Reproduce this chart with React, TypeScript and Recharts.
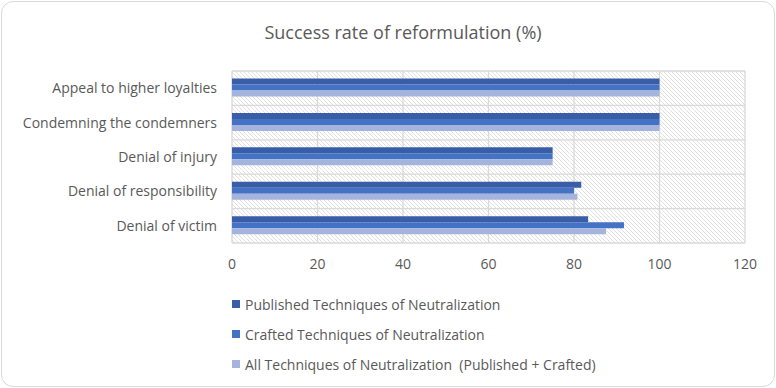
import React from "react";
import { BarChart, Bar, XAxis, YAxis, CartesianGrid } from "recharts";

const categories = [
  "Appeal to higher loyalties",
  "Condemning the condemners",
  "Denial of injury",
  "Denial of responsibility",
  "Denial of victim",
];
const publishedValues = [100, 100, 75, 81.7, 83.3];
const craftedValues = [100, 100, 75, 80, 91.7];
const allValues = [100, 100, 75, 80.8, 87.5];
const xTicks = [0, 20, 40, 60, 80, 100, 120];

const seriesNames = [
  "Published Techniques of Neutralization",
  "Crafted Techniques of Neutralization",
  "All Techniques of Neutralization  (Published + Crafted)",
];
const seriesColors = ["#3A5DA7", "#4472C4", "#A4B4DC"];
const seriesKeys = ["published", "crafted", "all"];

const data = categories.map((name, i) => ({
  name,
  published: publishedValues[i],
  crafted: craftedValues[i],
  all: allValues[i],
}));

const FONT = "'Open Sans', 'Noto Sans', sans-serif";
const TEXT = "#595959";

// Horizontal grid lines sit on category boundaries, not on tick centres.
const bandBoundaries = ({ offset }: any) => {
  const n = categories.length;
  const out: number[] = [];
  for (let i = 0; i <= n; i++) out.push(offset.top + (offset.height * i) / n);
  return out;
};

export default function App() {
  return (
    <div
      style={{
        position: "absolute",
        left: 0,
        top: 0,
        width: 776,
        height: 388,
        fontFamily: FONT,
        background: "#fff",
      }}
    >
      <div
        style={{
          position: "absolute",
          left: 1,
          top: 1,
          width: 772,
          height: 384,
          border: "1px solid #D9D9D9",
          borderRadius: 12,
        }}
      />
      <div
        style={{
          position: "absolute",
          left: 0,
          width: 806,
          top: 19,
          textAlign: "center",
          fontSize: 18,
          color: TEXT,
          lineHeight: "26px",
        }}
      >
        Success rate of reformulation (%)
      </div>
      <div style={{ position: "absolute", left: 0, top: 0 }}>
        <BarChart
          width={776}
          height={388}
          data={data}
          layout="vertical"
          margin={{ top: 71, right: 31, bottom: 115, left: 0 }}
          barCategoryGap="22%"
          barGap={0}
        >
          <defs>
            <pattern
              id="hatch"
              width="4"
              height="4"
              patternUnits="userSpaceOnUse"
            >
              <path
                d="M-1,-1 l2,2 M0,0 l4,4 M3,3 l2,2"
                stroke="#DCDCDC"
                strokeWidth="0.8"
              />
            </pattern>
          </defs>
          <CartesianGrid
            fill="url(#hatch)"
            stroke="#D9D9D9"
            strokeWidth={1.3}
            horizontalCoordinatesGenerator={bandBoundaries}
          />
          <XAxis
            type="number"
            domain={[0, 120]}
            ticks={xTicks}
            axisLine={false}
            tickLine={false}
            tickSize={0}
            tickMargin={16}
            height={30}
            tick={{ fill: TEXT, fontSize: 14, fontFamily: FONT }}
          />
          <YAxis
            type="category"
            dataKey="name"
            width={232}
            axisLine={false}
            tickLine={false}
            tickSize={0}
            tickMargin={15}
            tick={{ fill: TEXT, fontSize: 14, fontFamily: FONT }}
          />
          {seriesKeys.map((k, i) => (
            <Bar
              key={k}
              dataKey={k}
              name={seriesNames[i]}
              fill={seriesColors[i]}
              isAnimationActive={false}
            />
          ))}
        </BarChart>
      </div>
      <div style={{ position: "absolute", left: 232, top: 289 }}>
        {seriesNames.map((n, i) => (
          <div
            key={n}
            style={{
              display: "flex",
              alignItems: "center",
              height: 30,
              fontSize: 14,
              color: TEXT,
              whiteSpace: "pre",
            }}
          >
            <span
              style={{
                display: "inline-block",
                width: 8,
                height: 8,
                background: seriesColors[i],
                marginRight: 5,
              }}
            />
            {n}
          </div>
        ))}
      </div>
    </div>
  );
}
